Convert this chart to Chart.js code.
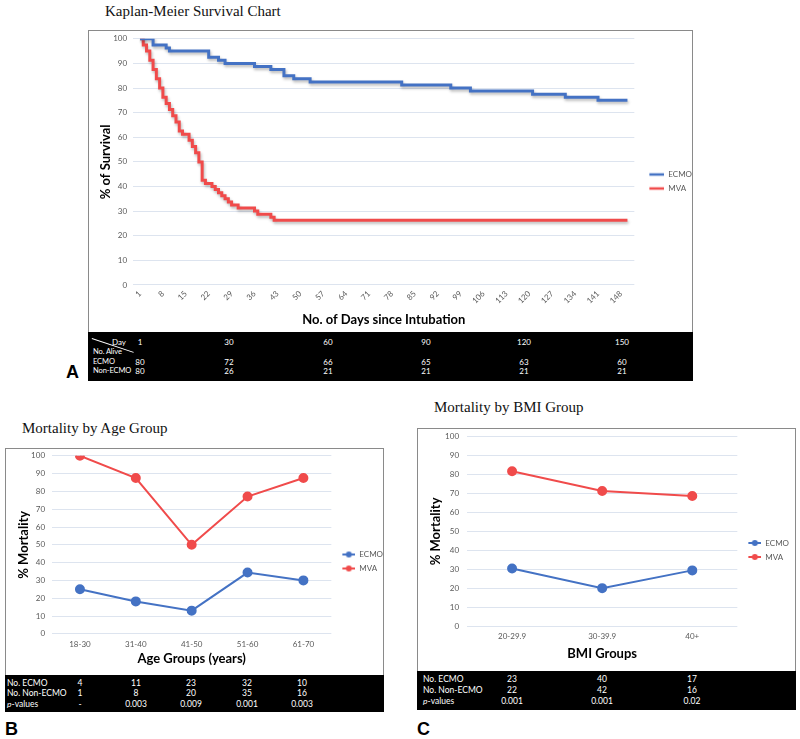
<!DOCTYPE html>
<html>
<head>
<meta charset="utf-8">
<script src="https://cdn.jsdelivr.net/npm/chart.js@4.4.1/dist/chart.umd.min.js"></script>
<style>
  html, body { margin: 0; padding: 0; background: #fff; }
  #page { position: relative; width: 800px; height: 739px; overflow: hidden; font-family: Lato, "Open Sans", sans-serif; }
  .abs { position: absolute; }
  .box { position: absolute; border: 1px solid #8a8a8a; box-sizing: border-box; }
  .blk { position: absolute; background: #000; }
  .title { position: absolute; font-family: "Liberation Serif", "DejaVu Serif", serif; font-size: 15px; line-height: 15px; color: #111; white-space: nowrap; }
  .letter { position: absolute; font-family: "Liberation Sans", Arial, sans-serif; font-weight: bold; font-size: 18px; line-height: 18px; color: #000; }
  .cell { position: absolute; color: #fff; font-size: 8.5px; line-height: 10px; white-space: nowrap; }
  .cellA { font-size: 8px; }
  .lblA { font-size: 7.5px; letter-spacing: -0.1px; }
  .ctr { transform: translateX(-50%); }
  canvas { position: absolute; }
</style>
</head>
<body>
<div id="page">
  <div class="title" style="left:105px;top:4px;">Kaplan-Meier Survival Chart</div>
  <div class="box" style="left:88px;top:30px;width:605px;height:351px;"></div>
  <div class="blk" id="tblA" style="left:88px;top:332px;width:605px;height:49px;"></div>
  <canvas id="chartA" width="613" height="303" style="left:89px;top:28px;"></canvas>
  <div class="letter" style="left:66px;top:363px;">A</div>

  <div class="title" style="left:22px;top:421px;">Mortality by Age Group</div>
  <div class="box" style="left:5px;top:448px;width:379px;height:264px;"></div>
  <div class="blk" id="tblB" style="left:5px;top:675px;width:379px;height:37px;"></div>
  <canvas id="chartB" width="387" height="230" style="left:6px;top:444px;"></canvas>
  <div class="letter" style="left:5px;top:720px;">B</div>

  <div class="title" style="left:434px;top:400px;">Mortality by BMI Group</div>
  <div class="box" style="left:417px;top:428px;width:379px;height:282px;"></div>
  <div class="blk" id="tblC" style="left:417px;top:671px;width:379px;height:39px;"></div>
  <canvas id="chartC" width="381" height="246" style="left:418px;top:424px;"></canvas>
  <div class="letter" style="left:417px;top:720px;">C</div>
</div>
<script>
// ---------------- DATA ----------------
// Panel A: Kaplan-Meier survival (% of survival), step events (day, value after event)
const kmTickDays = [1, 8, 15, 22, 29, 36, 43, 50, 57, 64, 71, 78, 85, 92, 99, 106, 113, 120, 127, 134, 141, 148];
const ecmoDays = [1, 5, 9, 10, 22, 25, 27, 36, 41, 45, 48, 53, 81, 96, 102, 121, 131, 141, 150];
const ecmoSurvival = [100, 97.5, 96.25, 95, 92.5, 91.25, 90, 88.75, 87.5, 85, 83.75, 82.5, 81.25, 80, 78.75, 77.5, 76.25, 75, 75];
const mvaDays = [1, 2, 3, 4, 5, 6, 7, 8, 9, 10, 11, 12, 13, 14, 16, 17, 18, 19, 20, 21, 23, 24, 25, 26, 27, 28, 29, 31, 36, 37, 41, 42, 150];
const mvaSurvival = [100, 97.5, 95, 91.25, 87.5, 83.75, 80, 76.25, 73.75, 71.25, 68.75, 66.25, 62.5, 61.25, 58.75, 56.25, 53.75, 50, 42.5, 41.25, 40, 38.75, 37.5, 36.25, 35, 33.75, 32.5, 31.25, 30, 28.75, 27.5, 26.25, 26.25];
const seriesNames = ['ECMO', 'MVA'];
// Panel A table
const kmTableDays = ['1', '30', '60', '90', '120', '150'];
const kmAliveEcmo = ['80', '72', '66', '65', '63', '60'];
const kmAliveNonEcmo = ['80', '26', '21', '21', '21', '21'];

// Panel B: mortality by age group (%)
const ageGroups = ['18-30', '31-40', '41-50', '51-60', '61-70'];
const ageEcmo = [25, 18.2, 13, 34.4, 30];
const ageMva = [100, 87.5, 50, 77.1, 87.5];
const ageNoEcmo = ['4', '11', '23', '32', '10'];
const ageNoNonEcmo = ['1', '8', '20', '35', '16'];
const ageP = ['-', '0.003', '0.009', '0.001', '0.003'];

// Panel C: mortality by BMI group (%)
const bmiGroups = ['20-29.9', '30-39.9', '40+'];
const bmiEcmo = [30.4, 20, 29.4];
const bmiMva = [81.8, 71.4, 68.75];
const bmiNoEcmo = ['23', '40', '17'];
const bmiNoNonEcmo = ['22', '42', '16'];
const bmiP = ['0.001', '0.001', '0.02'];

const yTicks = [0, 10, 20, 30, 40, 50, 60, 70, 80, 90, 100];

// ---------------- STYLE ----------------
const BLUE = '#4472C4';
const RED = '#F04B4B';
const GRID = '#dde4ef';
const TICK = '#595959';
const FONT = 'Lato, "Open Sans", sans-serif';
Chart.defaults.font.family = FONT;
Chart.defaults.color = TICK;
Chart.defaults.animation = false;

function legendIcon(color, dot, total, lineLen, lw) {
  const c = document.createElement('canvas');
  c.width = total; c.height = 10;
  const g = c.getContext('2d');
  g.strokeStyle = color; g.lineWidth = lw;
  g.beginPath(); g.moveTo(total - lineLen, 5); g.lineTo(total, 5); g.stroke();
  if (dot) { g.fillStyle = color; g.beginPath(); g.arc(total - lineLen / 2, 5, 3, 0, Math.PI * 2); g.fill(); }
  return c;
}
function legendOpts(icons, width) {
  return {
    position: 'right',
    labels: {
      usePointStyle: true, pointStyleWidth: width, padding: 6, color: TICK,
      font: { size: 8 },
      generateLabels: chart => chart.data.datasets.map((ds, i) => ({
        text: ds.label, pointStyle: icons[i], hidden: false, datasetIndex: i,
        lineWidth: 0, strokeStyle: 'rgba(0,0,0,0)', fillStyle: 'rgba(0,0,0,0)', fontColor: TICK
      }))
    }
  };
}
function yAxis(text, padTick, titlePad) {
  return {
    min: 0, max: 100,
    afterBuildTicks: ax => { ax.ticks = yTicks.map(v => ({ value: v })); },
    grid: { color: GRID, drawTicks: false },
    border: { display: false },
    ticks: { font: { size: 8 }, color: TICK, padding: padTick },
    title: { display: true, text: text, font: { size: 13, weight: 'bold' }, color: '#000', padding: titlePad }
  };
}
function xCatAxis(text, padTick, titlePad) {
  return {
    offset: true,
    grid: { display: false, drawTicks: false },
    border: { display: false },
    ticks: { font: { size: 8 }, color: TICK, padding: padTick },
    title: { display: true, text: text, font: { size: 13, weight: 'bold' }, color: '#000', padding: titlePad }
  };
}

const shadowPlugin = {
  id: 'lineShadow',
  beforeDatasetDraw(chart) { const c = chart.ctx; c.save(); c.shadowColor = 'rgba(0,0,0,0.28)'; c.shadowBlur = 3; c.shadowOffsetX = 1; c.shadowOffsetY = 2; },
  afterDatasetDraw(chart) { chart.ctx.restore(); }
};

// ---------------- CHART A ----------------
new Chart(document.getElementById('chartA'), {
  type: 'line',
  data: {
    datasets: [
      { label: seriesNames[0], data: ecmoDays.map((d, i) => ({ x: d, y: ecmoSurvival[i] })), borderColor: BLUE, borderWidth: 3, pointRadius: 0, stepped: 'before', fill: false },
      { label: seriesNames[1], data: mvaDays.map((d, i) => ({ x: d, y: mvaSurvival[i] })), borderColor: RED, borderWidth: 3, pointRadius: 0, stepped: 'before', fill: false }
    ]
  },
  options: {
    responsive: false, devicePixelRatio: 1,
    layout: { padding: { top: 4, left: 4, right: 0, bottom: 0 } },
    plugins: { legend: legendOpts([legendIcon(BLUE, false, 24, 15, 2.5), legendIcon(RED, false, 24, 15, 2.5)], 24), tooltip: { enabled: false } },
    scales: {
      x: {
        type: 'linear', min: -1.1, max: 152.1,
        afterBuildTicks: ax => { ax.ticks = kmTickDays.map(v => ({ value: v })); },
        grid: { display: false, drawTicks: false },
        border: { display: false },
        ticks: { font: { size: 8 }, color: TICK, minRotation: 45, maxRotation: 45, autoSkip: false, padding: 4 },
        title: { display: true, text: 'No. of Days since Intubation', font: { size: 13, weight: 'bold' }, color: '#000', padding: { top: 2.8, bottom: 3 } }
      },
      y: yAxis('% of Survival', 6, { top: 5.2, bottom: -6.6 })
    }
  },
  plugins: [shadowPlugin]
});

// ---------------- CHART B ----------------
new Chart(document.getElementById('chartB'), {
  type: 'line',
  data: {
    labels: ageGroups,
    datasets: [
      { label: seriesNames[0], data: ageEcmo, borderColor: BLUE, backgroundColor: BLUE, borderWidth: 2, pointRadius: 4, pointBackgroundColor: BLUE, pointBorderColor: BLUE },
      { label: seriesNames[1], data: ageMva, borderColor: RED, backgroundColor: RED, borderWidth: 2, pointRadius: 4, pointBackgroundColor: RED, pointBorderColor: RED }
    ]
  },
  options: {
    responsive: false, devicePixelRatio: 1,
    layout: { padding: { top: 5, left: 4, right: 0, bottom: 0 } },
    plugins: { legend: legendOpts([legendIcon(BLUE, true, 18, 13, 2), legendIcon(RED, true, 18, 13, 2)], 18), tooltip: { enabled: false } },
    scales: {
      x: xCatAxis('Age Groups (years)', 6, { top: -4, bottom: 7 }),
      y: yAxis('% Mortality', 7, { top: 6.2, bottom: -7.7 })
    }
  }
});

// ---------------- CHART C ----------------
new Chart(document.getElementById('chartC'), {
  type: 'line',
  data: {
    labels: bmiGroups,
    datasets: [
      { label: seriesNames[0], data: bmiEcmo, borderColor: BLUE, backgroundColor: BLUE, borderWidth: 2, pointRadius: 4, pointBackgroundColor: BLUE, pointBorderColor: BLUE },
      { label: seriesNames[1], data: bmiMva, borderColor: RED, backgroundColor: RED, borderWidth: 2, pointRadius: 4, pointBackgroundColor: RED, pointBorderColor: RED }
    ]
  },
  options: {
    responsive: false, devicePixelRatio: 1,
    layout: { padding: { top: 6, left: 4, right: 0, bottom: 0 } },
    plugins: { legend: legendOpts([legendIcon(BLUE, true, 18, 13, 2), legendIcon(RED, true, 18, 13, 2)], 18), tooltip: { enabled: false } },
    scales: {
      x: xCatAxis('BMI Groups', 6, { top: -1.4, bottom: 8.2 }),
      y: yAxis('% Mortality', 8, { top: 6.2, bottom: -6.7 })
    }
  }
});

// ---------------- TABLES ----------------
function cell(text, x, y, center, cls) {
  const d = document.createElement('div');
  d.className = 'cell' + (center ? ' ctr' : '') + (cls ? ' ' + cls : '');
  d.style.left = x + 'px';
  d.style.top = (y - 5) + 'px';
  d.innerHTML = text;
  document.getElementById('page').appendChild(d);
}
// Table A
const colA = [140, 229, 328, 426, 524, 622];
cell('Day', 112, 342, false, 'cellA');
cell('No. Alive', 93, 352, false, 'lblA');
cell('ECMO', 93, 362, false, 'lblA');
cell('Non-ECMO', 93, 371, false, 'lblA');
kmTableDays.forEach((t, i) => cell(t, colA[i], 342, true, 'cellA'));
kmAliveEcmo.forEach((t, i) => cell(t, colA[i], 362, true, 'cellA'));
kmAliveNonEcmo.forEach((t, i) => cell(t, colA[i], 371, true, 'cellA'));
const diag = document.createElement('div');
diag.className = 'abs';
Object.assign(diag.style, { left: '92px', top: '338px', width: '44px', height: '1px', background: '#fff', transformOrigin: '0 0', transform: 'rotate(18.4deg)' });
document.getElementById('page').appendChild(diag);

// Table B
const colB = [80, 136, 191, 247, 302];
cell('No. ECMO', 7, 683, false);
cell('No. Non-ECMO', 7, 693, false);
cell('<i>p</i>-values', 7, 704, false);
ageNoEcmo.forEach((t, i) => cell(t, colB[i], 683, true));
ageNoNonEcmo.forEach((t, i) => cell(t, colB[i], 693, true));
ageP.forEach((t, i) => cell(t, colB[i], 704, true));

// Table C
const colC = [512, 602, 692];
cell('No. ECMO', 423, 679, false);
cell('No. Non-ECMO', 423, 690, false);
cell('<i>p</i>-values', 423, 701, false);
bmiNoEcmo.forEach((t, i) => cell(t, colC[i], 679, true));
bmiNoNonEcmo.forEach((t, i) => cell(t, colC[i], 690, true));
bmiP.forEach((t, i) => cell(t, colC[i], 701, true));
</script>
</body>
</html>
